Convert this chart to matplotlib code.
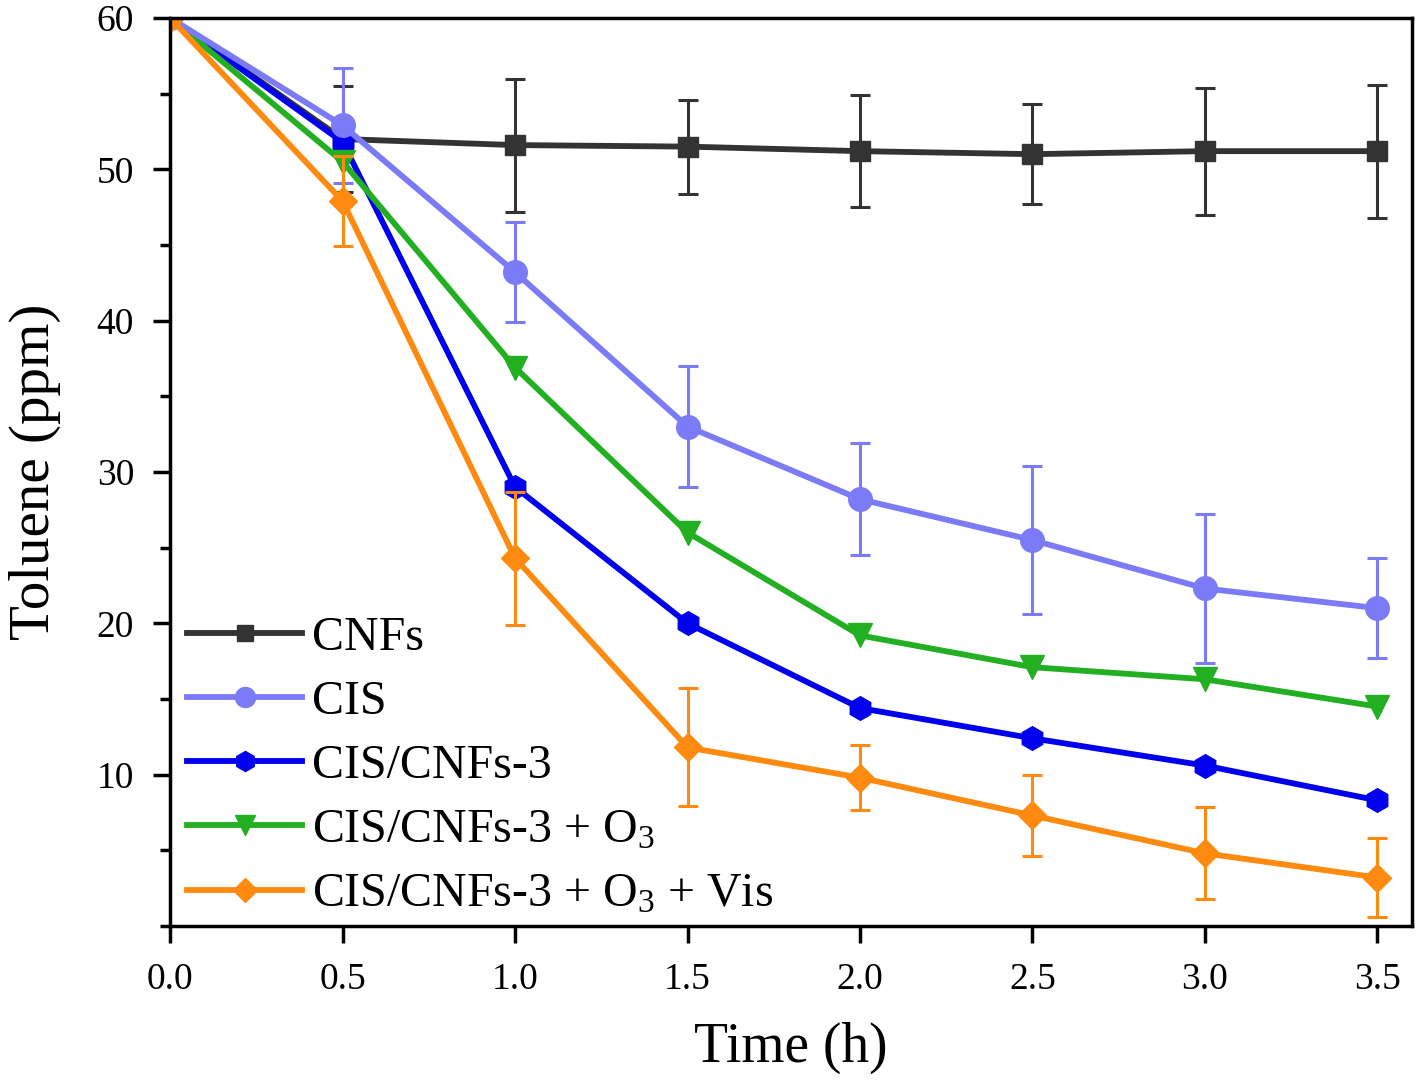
import numpy as np
import matplotlib.pyplot as plt
from matplotlib.ticker import MultipleLocator
from matplotlib.lines import Line2D

plt.rcParams['font.family'] = ['Liberation Serif', 'DejaVu Serif']
plt.rcParams['mathtext.fontset'] = 'custom'
plt.rcParams['mathtext.rm'] = 'Liberation Serif'
plt.rcParams['mathtext.default'] = 'regular'

# time (h)
time = [0.0, 0.5, 1.0, 1.5, 2.0, 2.5, 3.0, 3.5]

# toluene (ppm) and error bars
cnfs = [60, 52.0, 51.6, 51.5, 51.2, 51.0, 51.2, 51.2]
cnfs_err = [0, 3.5, 4.4, 3.1, 3.7, 3.3, 4.2, 4.4]

cis = [60, 52.9, 43.2, 33.0, 28.2, 25.5, 22.3, 21.0]
cis_err = [0, 3.8, 3.3, 4.0, 3.7, 4.9, 4.9, 3.3]

cis_cnfs = [60, 51.8, 29.0, 20.0, 14.4, 12.4, 10.6, 8.3]

cis_cnfs_o3 = [60, 50.5, 36.9, 26.0, 19.2, 17.1, 16.3, 14.5]

cis_cnfs_o3_vis = [60, 47.9, 24.3, 11.8, 9.8, 7.3, 4.8, 3.2]
cis_cnfs_o3_vis_err = [0, 3.0, 4.4, 3.9, 2.15, 2.65, 3.05, 2.6]

labels = ['CNFs', 'CIS', 'CIS/CNFs-3', r'CIS/CNFs-3 + O$_3$',
          r'CIS/CNFs-3 + O$_3$ + Vis']
colors = ['#333333', '#7b7bf7', '#0000ee', '#22b022', '#ff8a10']
markers = ['s', 'o', 'h', 'v', 'D']
msizes = [14, 17, 17, 17, 14]

fig = plt.figure(figsize=(14.18, 10.83), dpi=100)
ax = fig.add_axes([0.12, 0.145, 0.8757, 0.8384])

lw = 4.2
ebkw = dict(elinewidth=2.2, capsize=7, capthick=2.2)

ax.errorbar(time, cis, yerr=cis_err, color=colors[1], marker=markers[1],
            lw=lw, ms=msizes[1], **ebkw)
ax.plot(time, cis_cnfs, color=colors[2], marker=markers[2], lw=lw,
        ms=msizes[2])
ax.plot(time, cis_cnfs_o3, color=colors[3], marker=markers[3], lw=lw,
        ms=msizes[3])
ax.errorbar(time, cis_cnfs_o3_vis, yerr=cis_cnfs_o3_vis_err, color=colors[4],
            marker=markers[4], lw=lw, ms=msizes[4], **ebkw)
ax.errorbar(time, cnfs, yerr=cnfs_err, color=colors[0], marker=markers[0],
            lw=lw, ms=msizes[0], zorder=1.5, **ebkw)

ax.set_xlim(0, 3.6)
ax.set_ylim(0, 60)
ax.xaxis.set_major_locator(MultipleLocator(0.5))
ax.set_yticks([10, 20, 30, 40, 50, 60])
ax.yaxis.set_minor_locator(MultipleLocator(5))
ax.tick_params(axis='both', which='major', direction='out', length=12,
               width=2.5, labelsize=27, pad=14)
ax.tick_params(axis='y', which='minor', direction='out', length=7, width=2.5)
for s in ax.spines.values():
    s.set_linewidth(2.5)

ax.set_xlabel('Time (h)', fontsize=40, labelpad=18)
ax.set_ylabel('Toluene (ppm)', fontsize=41, labelpad=26)

handles = [Line2D([], [], color=c, marker=m, lw=lw, ms=s * 0.85)
           for c, m, s in zip(colors, markers, msizes)]
leg = ax.legend(handles, labels, loc='lower left', bbox_to_anchor=(0.006, 0.0),
                frameon=False, fontsize=34.5, handlelength=2.4,
                handletextpad=0.2, labelspacing=0.42, borderaxespad=0.0,
                borderpad=0.2)

fig.savefig('out.png', dpi=100)
